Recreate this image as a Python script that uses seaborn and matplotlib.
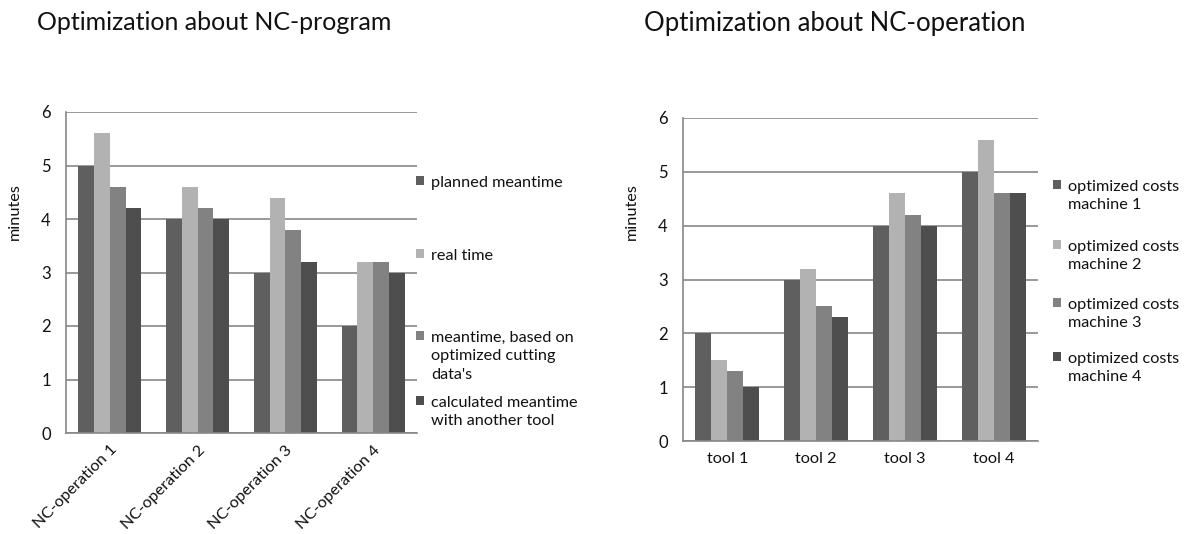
import pandas as pd
import seaborn as sns
import matplotlib.pyplot as plt
from matplotlib.ticker import FixedLocator

# Data - left chart
operations = ['NC-operation 1', 'NC-operation 2', 'NC-operation 3', 'NC-operation 4']
prog_series = ['planned meantime', 'real time',
               "meantime, based on\noptimized cutting\ndata's",
               'calculated meantime\nwith another tool']
planned = [5, 4, 3, 2]
real = [5.6, 4.6, 4.4, 3.2]
optimized = [4.6, 4.2, 3.8, 3.2]
calculated = [4.2, 4, 3.2, 3]

# Data - right chart
tools = ['tool 1', 'tool 2', 'tool 3', 'tool 4']
op_series = ['optimized costs\nmachine 1', 'optimized costs\nmachine 2',
             'optimized costs\nmachine 3', 'optimized costs\nmachine 4']
machine1 = [2, 3, 4, 5]
machine2 = [1.5, 3.2, 4.6, 5.6]
machine3 = [1.3, 2.5, 4.2, 4.6]
machine4 = [1, 2.3, 4, 4.6]

colors = ['#5f5f5f', '#b2b2b2', '#828282', '#4e4e4e']
grid_col = '#878787'
txt_col = '#111111'

sns.set_style('white')
plt.rcParams['font.family'] = ['Lato', 'DejaVu Sans']
plt.rcParams['text.color'] = txt_col

W, H = 1184, 534
FS = 11.7


def long_df(cats, names, values):
    rows = []
    for name, vals in zip(names, values):
        for c, v in zip(cats, vals):
            rows.append({'cat': c, 'series': name, 'value': v})
    return pd.DataFrame(rows)


def style_axis(ax, df):
    sns.barplot(data=df, x='cat', y='value', hue='series', palette=colors,
                width=0.72, saturation=1, linewidth=0, ax=ax, legend=True)
    ax.set_ylim(0, 6)
    ax.set_xlim(-0.5, 3.5)
    ax.set_yticks(range(7))
    ax.yaxis.grid(True, color=grid_col, lw=1.2)
    ax.set_axisbelow(True)
    for s in ['top', 'right']:
        ax.spines[s].set_visible(False)
    for s in ['left', 'bottom']:
        ax.spines[s].set_color(grid_col)
        ax.spines[s].set_linewidth(1.2)
    ax.xaxis.set_minor_locator(FixedLocator([-0.5, 0.5, 1.5, 2.5, 3.5]))
    ax.tick_params(axis='x', which='major', length=0, labelcolor=txt_col)
    ax.tick_params(axis='x', which='minor', length=5, width=1.2, color=grid_col, direction='out')
    ax.tick_params(axis='y', length=5, width=1.2, color=grid_col, direction='out',
                   labelsize=12, pad=6, labelcolor=txt_col)
    ax.set_xlabel('')
    ax.set_ylabel('')
    handles = ax.get_legend_handles_labels()[0]
    ax.get_legend().remove()
    return handles


def place_legend(fig, handles, labels, x, ys):
    for h, lab, y in zip(handles, labels, ys):
        leg = fig.legend([h], [lab], loc='upper left',
                         bbox_to_anchor=(x / W, 1 - y / H), frameon=False,
                         fontsize=FS, handlelength=0.5, handleheight=0.5,
                         handletextpad=0.45, borderpad=0, borderaxespad=0)
        for t in leg.get_texts():
            t.set_linespacing(1.4)
        # marker next to the first line of the label
        for col in leg._legend_handle_box.get_children():
            for row in col.get_children():
                row.align = 'top'


fig = plt.figure(figsize=(W / 100, H / 100), dpi=100)

# Left chart
ax1 = fig.add_axes([66 / W, 1 - 433 / H, 351 / W, 321 / H])
h1 = style_axis(ax1, long_df(operations, prog_series, [planned, real, optimized, calculated]))
ax1.set_xticks(range(4))
ax1.set_xticklabels(operations, rotation=45, ha='right', rotation_mode='anchor', fontsize=FS)
ax1.tick_params(axis='x', which='major', pad=7)
fig.text(15 / W, 1 - 212 / H, 'minutes', rotation=90, va='center', ha='center', fontsize=FS)
fig.text(37 / W, 1 - 23 / H, 'Optimization about NC-program', fontsize=18, va='center', ha='left')
place_legend(fig, h1, prog_series, 416, [176, 249, 331, 396])

# Right chart
ax2 = fig.add_axes([683 / W, 1 - 441 / H, 355 / W, 323 / H])
h2 = style_axis(ax2, long_df(tools, op_series, [machine1, machine2, machine3, machine4]))
ax2.set_xticks(range(4))
ax2.set_xticklabels(tools, fontsize=FS)
ax2.tick_params(axis='x', which='major', pad=8)
fig.text(632 / W, 1 - 212 / H, 'minutes', rotation=90, va='center', ha='center', fontsize=FS)
fig.text(644 / W, 1 - 23 / H, 'Optimization about NC-operation', fontsize=18.5, va='center', ha='left')
place_legend(fig, h2, op_series, 1053, [180, 240, 298, 352])

fig.savefig('out.png', dpi=100, facecolor='white')
